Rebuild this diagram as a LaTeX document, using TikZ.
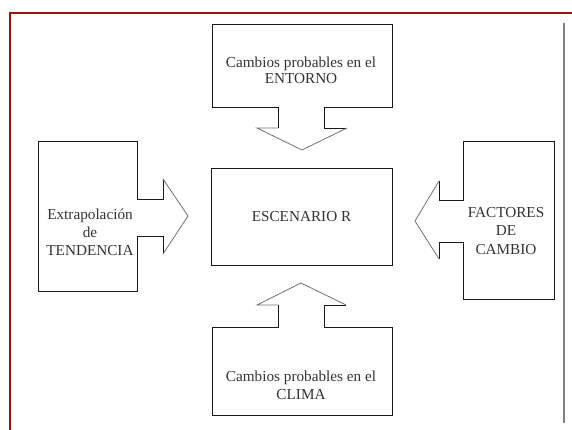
\documentclass[tikz,border=0pt]{standalone}
\usepackage{fontspec}
\setmainfont{Liberation Serif}
\usepackage{tikz}
\usetikzlibrary{positioning, calc}
\definecolor{marco}{RGB}{155,20,20}
\tikzstyle{caja} = [draw=black!90, line width=0.8pt, line join=miter]
\tikzstyle{punta} = [draw=black!55, line width=0.7pt]
\tikzstyle{rotulo} = [align=center, text=black!80, font=\fontsize{13}{15.5}\selectfont]

\begin{document}
\begin{tikzpicture}[x=0.03cm, y=-0.03cm]
    \useasboundingbox (0,0) rectangle (572,430);
    \draw[marco, line width=1.6pt] (10,430) -- (10,13) -- (572,13);
    \draw[black!50, line width=1.2pt] (564,23) -- (564,423);

    % entorno (arriba)
    \draw[caja] (278,128) -- (278,107) -- (212,107) -- (212,24) -- (392,24) -- (392,107) -- (324,107) -- (324,128) -- (347,128);
    \draw[punta] (347,128) -- (302,150) -- (257,128) -- (278,128);
    % tendencia (izquierda)
    \draw[caja] (163,179) -- (163,199) -- (137,199) -- (137,141) -- (38,141) -- (38,291) -- (137,291) -- (137,236) -- (163,236) -- (163,254);
    \draw[punta] (163,254) -- (188,216) -- (163,179);
    % factores (derecha)
    \draw[caja] (439,181) -- (439,200) -- (463,200) -- (463,141) -- (554,141) -- (554,299) -- (463,299) -- (463,242) -- (439,242) -- (439,259);
    \draw[punta] (439,259) -- (415,221) -- (439,181);
    % clima (abajo)
    \draw[caja] (278,305) -- (278,327) -- (212,327) -- (212,415) -- (392,415) -- (392,327) -- (324,327) -- (324,305) -- (346,305);
    \draw[punta] (346,305) -- (301,283) -- (257,305) -- (278,305);

    \node[caja, rotulo, minimum width=5.43cm, minimum height=2.91cm] (escenario) at (301.5,216.5) {ESCENARIO R};
    \node[rotulo, font=\fontsize{13}{14}\selectfont] (entorno) at (301,70) {Cambios probables en el\\ENTORNO};
    \node[rotulo] (tendencia) at (90,232) {Extrapolación\\de\\TENDENCIA};
    \node[rotulo] (factores) at (506,231) {FACTORES\\DE\\CAMBIO};
    \node[rotulo] (clima) at (301,385) {Cambios probables en el\\CLIMA};
\end{tikzpicture}
\end{document}
